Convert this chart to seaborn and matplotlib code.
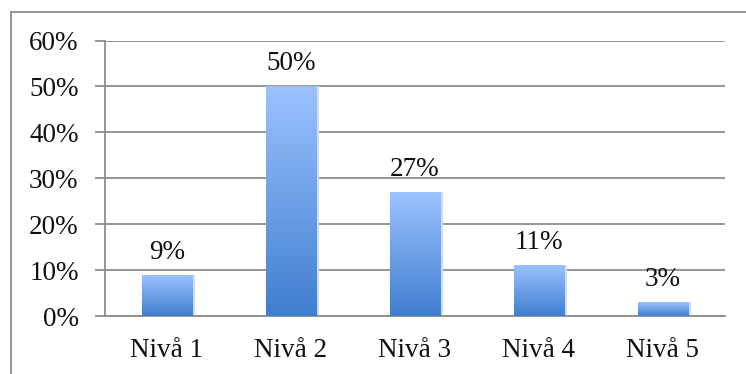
import numpy as np
import pandas as pd
import matplotlib
matplotlib.use("Agg")
import matplotlib.pyplot as plt
from matplotlib.colors import LinearSegmentedColormap
from matplotlib.lines import Line2D
from matplotlib.ticker import MultipleLocator, FuncFormatter
import seaborn as sns

# Share of responses per level
levels = ["Nivå 1", "Nivå 2", "Nivå 3", "Nivå 4", "Nivå 5"]
shares = [9, 50, 27, 11, 3]

df = pd.DataFrame({"level": levels, "share": shares})

sns.set_theme(style="white")
plt.rcParams["font.family"] = ["Liberation Serif", "DejaVu Serif"]

FS = 19.5

fig = plt.figure(figsize=(7.46, 3.74), dpi=100)
ax = fig.add_axes([105 / 746, 1 - 316 / 374, 620 / 746, 275.5 / 374])

sns.barplot(data=df, x="level", y="share", ax=ax, width=0.41,
            color="#6a9fe6", saturation=1, zorder=3)

# Gradient fill for each bar, light on top to darker blue at the base
cmap = LinearSegmentedColormap.from_list("bar", ["#3f7ecf", "#9cc2ff"])
grad = np.linspace(0, 1, 256).reshape(-1, 1)
for patch, value in zip(ax.patches, shares):
    x0, y0 = patch.get_x(), patch.get_y()
    w, h = patch.get_width(), patch.get_height()
    # soft shadow along the bar's right edge
    ax.add_patch(plt.Rectangle((x0 + w, y0), 0.02, h, facecolor="#dcdcdc",
                               edgecolor="none", zorder=2.5))
    im = ax.imshow(grad, cmap=cmap, aspect="auto", origin="lower",
                   extent=[x0, x0 + w, y0, y0 + h], zorder=3.5)
    im.set_clip_path(patch)
    patch.set_facecolor("none")
    patch.set_edgecolor("none")
    ax.text(x0 + w / 2, y0 + h + 3.5, f"{value}%",
            ha="center", va="baseline", fontsize=FS, color="#111111", zorder=5)

ax.set_xlim(-0.5, len(levels) - 0.5)
ax.set_ylim(0, 60)

# Horizontal gridlines and axis styling
ax.yaxis.set_major_locator(MultipleLocator(10))
ax.yaxis.set_major_formatter(FuncFormatter(lambda v, _: f"{v:.0f}%"))
ax.grid(axis="y", color="#8c8c8c", linewidth=1.3, zorder=0)
ax.set_axisbelow(True)
for side in ["top", "right"]:
    ax.spines[side].set_visible(False)
for side in ["left", "bottom"]:
    ax.spines[side].set_color("#8c8c8c")
    ax.spines[side].set_linewidth(1.3)

ax.set_xticks(np.arange(len(levels)))
ax.set_xticklabels(levels)
ax.set_xticks(np.arange(-0.5, len(levels)), minor=True)
ax.tick_params(axis="x", which="major", length=0, pad=16, labelsize=FS, colors="#111111")
ax.tick_params(axis="x", which="minor", length=7, width=1.3, color="#8c8c8c", direction="out")
ax.tick_params(axis="y", which="major", length=7, width=1.3, color="#8c8c8c",
               direction="out", labelsize=FS, labelcolor="#111111", pad=12, left=True)
ax.set_xlabel("")
ax.set_ylabel("")

# Chart frame (top and left edges)
fig.add_artist(Line2D([10.5 / 746, 1], [1 - 11.5 / 374, 1 - 11.5 / 374],
                      transform=fig.transFigure, color="#8c8c8c", linewidth=1.3))
fig.add_artist(Line2D([10.5 / 746, 10.5 / 746], [0, 1 - 11.5 / 374],
                      transform=fig.transFigure, color="#8c8c8c", linewidth=1.3))

fig.savefig("out.png", dpi=100)
